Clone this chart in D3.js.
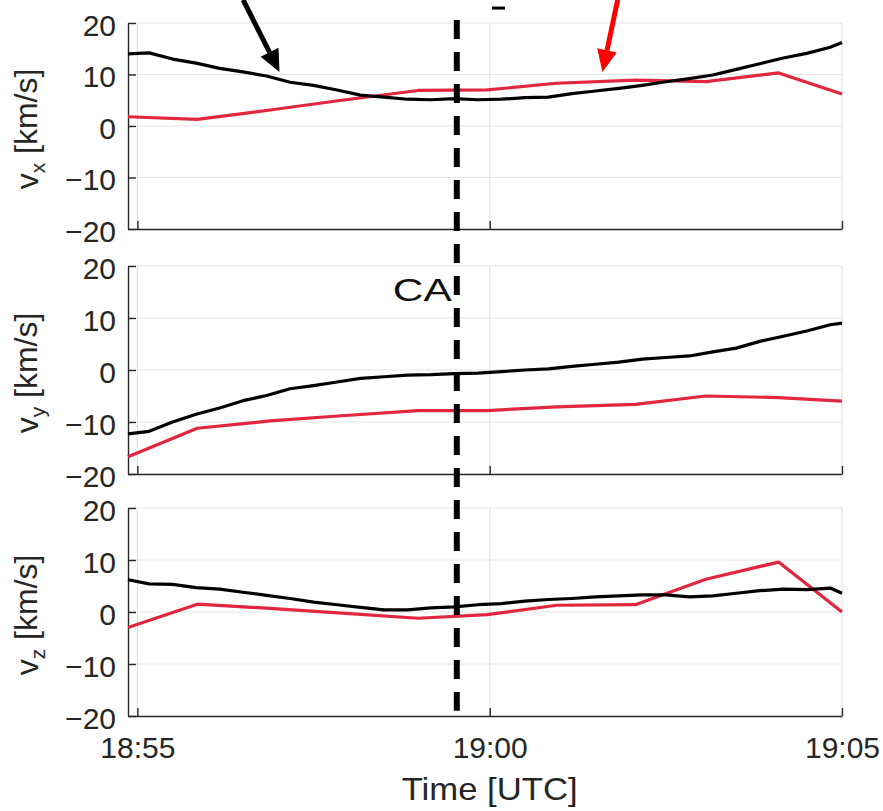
<!DOCTYPE html>
<html>
<head>
<meta charset="utf-8">
<script src="https://cdn.jsdelivr.net/npm/d3@7"></script>
<style>
body { margin:0; background:#fff; }
text { font-family: "Liberation Sans", Arial, Helvetica, sans-serif; }
</style>
</head>
<body>
<div id="chart-area"></div>
<script>
// times are seconds after 18:55:00 UTC
var blackSec = [-8,10,30,50,70,90,110,130,150,170,190,210,230,250,270,290,310,330,350,370,390,410,430,450,470,490,510,530,550,570,590,600];
var vxBlack = [14.0,14.2,13.0,12.2,11.2,10.5,9.7,8.5,7.9,7.0,6.0,5.6,5.2,5.1,5.3,5.1,5.2,5.5,5.6,6.3,6.8,7.3,7.9,8.6,9.2,9.9,11.0,12.1,13.2,14.1,15.3,16.2];
var vyBlack = [-12.3,-11.8,-10.0,-8.5,-7.3,-5.9,-4.9,-3.6,-3.0,-2.3,-1.6,-1.3,-1.0,-0.9,-0.7,-0.6,-0.3,0.0,0.2,0.7,1.1,1.5,2.1,2.4,2.7,3.5,4.2,5.5,6.5,7.5,8.7,9.0];
var vzBlack = [6.2,5.4,5.3,4.7,4.4,3.8,3.2,2.6,1.9,1.4,0.9,0.4,0.4,0.8,1.0,1.4,1.6,2.1,2.4,2.6,2.9,3.1,3.3,3.3,2.9,3.1,3.6,4.1,4.4,4.3,4.6,3.6];

var redSec = [-8,51,113,174,239,298,357,424,484,546,600];
var vxRed = [1.8,1.3,3.1,5.0,6.9,7.0,8.3,8.9,8.6,10.3,6.2];
var vyRed = [-16.7,-11.2,-9.8,-8.8,-7.8,-7.8,-7.1,-6.6,-5.0,-5.3,-6.0];
var vzRed = [-3.0,1.5,0.7,-0.2,-1.2,-0.5,1.3,1.4,6.3,9.6,0.0];

var components = ["x","y","z"];
var yTicks = [-20,-10,0,10,20];
var xTickSec = [0,300,600];
var caSec = 272;

// annotation arrows: [tailSec, tailValue, tipSec, tipValue] in the top panel
var blackArrow = [90, 24.5, 121, 10.5];
var redArrow = [409, 24.5, 396, 10.5];

var baseTime = Date.UTC(2000,0,1,18,55,0);
function t(s){ return new Date(baseTime + s*1000); }

var width = 883, height = 811;
var axisColor = "#262626";
var gridColor = "#e3e3e3";
var redColor = "#e2263e";

var svg = d3.select("#chart-area")
	.append("svg")
		.attr("width", width)
		.attr("height", height)
		.style("background", "#fff");

var x = d3.scaleUtc()
	.domain([t(-8), t(600)])
	.range([128, 842]);

var panels = [
	{comp:"x", black:vxBlack, red:vxRed, top:23, bottom:229},
	{comp:"y", black:vyBlack, red:vyRed, top:266, bottom:474},
	{comp:"z", black:vzBlack, red:vzRed, top:508, bottom:716}
];

var yScales = [];

panels.forEach(function(p, i){
	var y = d3.scaleLinear()
		.domain([-20, 20])
		.range([p.bottom, p.top]);
	yScales.push(y);

	var g = svg.append("g");

	// grid
	g.selectAll(".hgrid")
		.data(yTicks.slice(1))
		.enter().append("line")
			.attr("x1", x.range()[0])
			.attr("x2", x.range()[1])
			.attr("y1", function(d){ return y(d); })
			.attr("y2", function(d){ return y(d); })
			.attr("stroke", gridColor)
			.attr("stroke-width", 1.2);

	g.selectAll(".vgrid")
		.data(xTickSec)
		.enter().append("line")
			.attr("x1", function(d){ return x(t(d)); })
			.attr("x2", function(d){ return x(t(d)); })
			.attr("y1", p.top)
			.attr("y2", p.bottom)
			.attr("stroke", gridColor)
			.attr("stroke-width", 1.2);

	// axes
	var yAxisCall = d3.axisLeft(y)
		.tickValues(yTicks)
		.tickSizeInner(-8)
		.tickSizeOuter(0)
		.tickPadding(12);
	var ya = g.append("g")
		.attr("transform", "translate(" + x.range()[0] + ",0)")
		.call(yAxisCall);

	var xAxisCall = d3.axisBottom(x)
		.tickValues(xTickSec.map(t))
		.tickSizeInner(-8)
		.tickSizeOuter(0)
		.tickPadding(21)
		.tickFormat(i == 2 ? d3.utcFormat("%H:%M") : function(){ return ""; });
	var xa = g.append("g")
		.attr("transform", "translate(0," + p.bottom + ")")
		.call(xAxisCall);

	[ya, xa].forEach(function(a){
		a.attr("color", axisColor)
			.attr("font-family", "'Liberation Sans', Arial, sans-serif")
			.attr("font-size", "30px");
		a.selectAll("path, line").attr("stroke-width", 1.4);
	});
	ya.selectAll("text").attr("dy", "0.4em");

	// y label
	var lab = g.append("text")
		.attr("transform", "translate(38," + ((p.top + p.bottom) / 2 + 3) + ") rotate(-90)")
		.attr("text-anchor", "middle")
		.attr("font-size", "32px")
		.attr("fill", axisColor);
	lab.append("tspan").text("v");
	lab.append("tspan").attr("font-size", "21px").attr("dy", "0.35em").text(p.comp);
	lab.append("tspan").attr("dy", "-0.26em").text(" [km/s]");

	// data lines
	var line = d3.line()
		.x(function(d){ return x(t(d[0])); })
		.y(function(d){ return y(d[1]); });

	g.append("path")
		.datum(redSec.map(function(s, k){ return [s, p.red[k]]; }))
		.attr("d", line)
		.attr("fill", "none")
		.attr("stroke", redColor)
		.attr("stroke-width", 3.2)
		.attr("stroke-linejoin", "round");

	g.append("path")
		.datum(blackSec.map(function(s, k){ return [s, p.black[k]]; }))
		.attr("d", line)
		.attr("fill", "none")
		.attr("stroke", "#000")
		.attr("stroke-width", 3.2)
		.attr("stroke-linejoin", "round");
});

// closest approach marker
var caX = x(t(caSec));
svg.append("line")
	.attr("x1", caX)
	.attr("x2", caX)
	.attr("y1", yScales[0](20.6))
	.attr("y2", yScales[2](-19))
	.attr("stroke", "#000")
	.attr("stroke-width", 6)
	.attr("stroke-dasharray", "19,13");

svg.append("text")
	.attr("x", caX - 5)
	.attr("y", yScales[1](13.3))
	.attr("text-anchor", "end")
	.attr("font-size", "31px")
	.attr("textLength", 59)
	.attr("lengthAdjust", "spacingAndGlyphs")
	.attr("fill", "#111")
	.text("CA");

// x label
svg.append("text")
	.attr("x", x(t(300)))
	.attr("y", 800)
	.attr("text-anchor", "middle")
	.attr("font-size", "32px")
	.attr("textLength", 176)
	.attr("lengthAdjust", "spacingAndGlyphs")
	.attr("fill", axisColor)
	.text("Time [UTC]");

// arrows
function drawArrow(a, color){
	var y = yScales[0];
	var x0 = x(t(a[0])), y0 = y(a[1]), x1 = x(t(a[2])), y1 = y(a[3]);
	var ang = Math.atan2(y1 - y0, x1 - x0);
	var len = 22, half = 10;
	var bx = x1 - len * Math.cos(ang), by = y1 - len * Math.sin(ang);
	svg.append("line")
		.attr("x1", x0).attr("y1", y0)
		.attr("x2", bx).attr("y2", by)
		.attr("stroke", color)
		.attr("stroke-width", 5);
	svg.append("polygon")
		.attr("points", [
			[x1, y1],
			[bx + half * Math.sin(ang), by - half * Math.cos(ang)],
			[bx - half * Math.sin(ang), by + half * Math.cos(ang)]
		].map(function(q){ return q.join(","); }).join(" "))
		.attr("fill", color);
}
drawArrow(blackArrow, "#000");
drawArrow(redArrow, "#ff0000");

// clipped text fragment at the top edge
svg.append("line")
	.attr("x1", x(t(302)))
	.attr("x2", x(t(313)))
	.attr("y1", yScales[0](22.9))
	.attr("y2", yScales[0](22.9))
	.attr("stroke", "#000")
	.attr("stroke-width", 3);
</script>
</body>
</html>
